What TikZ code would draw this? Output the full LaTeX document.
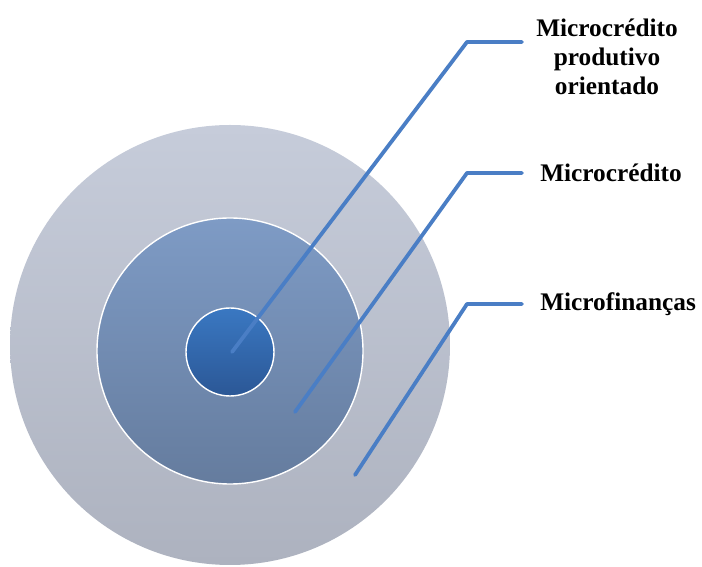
\documentclass[tikz,border=0pt]{standalone}
\usepackage{fontspec}
\setmainfont{Liberation Serif}
\usepackage{xcolor}
\definecolor{ringouterTop}{RGB}{198,204,218}
\definecolor{ringouterBot}{RGB}{173,178,191}
\definecolor{ringmidTop}{RGB}{126,155,197}
\definecolor{ringmidBot}{RGB}{101,124,158}
\definecolor{ringinTop}{RGB}{58,120,194}
\definecolor{ringinBot}{RGB}{43,87,150}
\definecolor{leaderblue}{RGB}{74,126,197}
\usepackage{tikz}
\usetikzlibrary{positioning}

\tikzset{
  ring/.style={circle, inner sep=0pt, shading=axis, shading angle=0},
  leader/.style={leaderblue, line width=2.7pt, line join=round, line cap=round},
  tag/.style={font=\bfseries\fontsize{18}{20.6}\selectfont, inner sep=0pt, align=center}
}

\begin{document}
\begin{tikzpicture}
  \useasboundingbox (0,0) rectangle (17.55,14.175);

  % Circles
  \node[ring, minimum size=11cm, top color=ringouterTop, bottom color=ringouterBot] (outer) at (5.75,5.55) {};
  \node[ring, minimum size=6.65cm, top color=ringmidTop, bottom color=ringmidBot,
        draw=white, line width=1pt] (middle) at (5.75,5.4) {};
  \node[ring, minimum size=2.2cm, top color=ringinTop, bottom color=ringinBot,
        draw=white, line width=1pt] (inner) at (5.75,5.375) {};

  % Leader points
  \coordinate (tip1) at (5.8,5.375);
  \coordinate (tip2) at (7.375,3.875);
  \coordinate (tip3) at (8.875,2.3);
  \coordinate (bend1) at (11.675,13.125);
  \coordinate (bend2) at (11.675,9.85);
  \coordinate (bend3) at (11.675,6.575);
  \coordinate (end1) at (13.05,13.125);
  \coordinate (end2) at (13.05,9.85);
  \coordinate (end3) at (13.05,6.575);

  % Labels
  \node[tag] (lab1) at (15.175,12.76) {Microcrédito\\produtivo\\orientado};
  \node[tag, anchor=west, right=0.45cm of end2] (lab2) {Microcrédito};
  \node[tag, anchor=west, right=0.45cm of end3] (lab3) {Microfinanças};

  % Leaders
  \draw[leader] (tip1) -- (bend1) -- (end1);
  \draw[leader] (tip2) -- (bend2) -- (end2);
  \draw[leader] (tip3) -- (bend3) -- (end3);
\end{tikzpicture}
\end{document}
